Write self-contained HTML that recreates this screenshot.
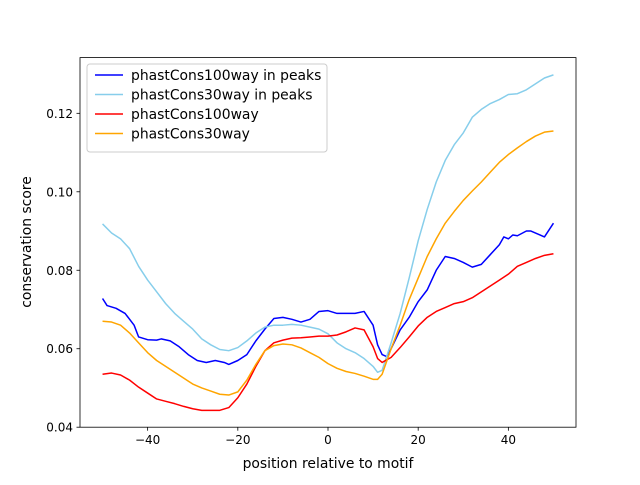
<!DOCTYPE html>
<html><head><meta charset="utf-8"><style>
body{margin:0;background:#fff;}
svg text{font-family:"DejaVu Sans","Liberation Sans",sans-serif;}
</style></head><body>
<svg id="chart" width="640" height="480" viewBox="0 0 640 480" xmlns="http://www.w3.org/2000/svg">
<rect width="640" height="480" fill="#fff"/>
<g id="lines"></g>
<rect x="80" y="57.6" width="496" height="369.6" fill="none" stroke="#000" stroke-width="0.8"/>
<g id="ticks"></g>
<text x="328" y="468" font-size="13.9" text-anchor="middle">position relative to motif</text>
<text transform="translate(31,242) rotate(-90)" font-size="13.9" text-anchor="middle">conservation score</text>
<g>
<rect x="87" y="64" width="240" height="88" rx="3" fill="#fff" fill-opacity="0.8" stroke="#ccc" stroke-width="1"/>
<g id="legend"></g>
</g>
</svg>
<script>
const xTicks=[-40,-20,0,20,40];
const yTicks=[0.04,0.06,0.08,0.10,0.12];
const yTickLabels=["0.04","0.06","0.08","0.10","0.12"];
const seriesNames=["phastCons100way in peaks","phastCons30way in peaks","phastCons100way","phastCons30way"];
const seriesColors=["#0000ff","#87ceeb","#ff0000","#ffa500"];
const blueX=[-50,-49,-47,-45,-43,-42,-40,-38,-37,-35,-33,-31,-29,-27,-25,-23,-22,-20,-18,-16,-14,-12,-10,-8,-6,-4,-2,0,2,4,6,8,10,11,12,13,14,16,18,20,22,24,26,28,30,32,34,36,38,39,40,41,42,44,45,47,48,50];
const blueY=[0.0728,0.071,0.0703,0.069,0.066,0.063,0.0623,0.0622,0.0625,0.062,0.0605,0.0585,0.057,0.0565,0.057,0.0565,0.056,0.057,0.0585,0.062,0.065,0.0677,0.068,0.0675,0.0668,0.0675,0.0695,0.0697,0.069,0.069,0.069,0.0695,0.066,0.061,0.0585,0.058,0.06,0.0648,0.068,0.072,0.075,0.08,0.0835,0.083,0.082,0.0808,0.0815,0.084,0.0865,0.0885,0.088,0.089,0.0888,0.09,0.09,0.089,0.0885,0.092];
const stdX=[-50,-48,-46,-44,-42,-40,-38,-36,-34,-32,-30,-28,-26,-24,-22,-20,-18,-16,-14,-12,-10,-8,-6,-4,-2,0,2,4,6,8,10,11,12,14,16,18,20,22,24,26,28,30,32,34,36,38,40,42,44,46,48,50];
const lightY=[0.0918,0.0895,0.088,0.0855,0.081,0.0775,0.0745,0.0715,0.069,0.067,0.065,0.0625,0.061,0.0598,0.0595,0.0603,0.062,0.064,0.0655,0.066,0.066,0.0662,0.066,0.0655,0.065,0.0638,0.0615,0.06,0.059,0.0575,0.0555,0.054,0.0545,0.0615,0.069,0.078,0.0875,0.0955,0.1025,0.108,0.112,0.115,0.119,0.121,0.1225,0.1235,0.1248,0.125,0.126,0.1275,0.129,0.1298];
const redY=[0.0535,0.0538,0.0533,0.052,0.0502,0.0487,0.0472,0.0466,0.046,0.0453,0.0447,0.0443,0.0443,0.0443,0.045,0.0475,0.051,0.0555,0.0595,0.0615,0.0622,0.0627,0.0628,0.063,0.0632,0.0632,0.0635,0.0643,0.0653,0.0648,0.0605,0.0575,0.0565,0.0578,0.0603,0.063,0.0658,0.068,0.0695,0.0705,0.0715,0.072,0.073,0.0745,0.076,0.0775,0.079,0.081,0.082,0.083,0.0838,0.0842];
const orangeY=[0.067,0.0668,0.066,0.064,0.0615,0.059,0.057,0.0555,0.054,0.0525,0.051,0.05,0.0492,0.0484,0.0482,0.049,0.052,0.056,0.0595,0.0608,0.0612,0.061,0.0602,0.059,0.0578,0.0562,0.055,0.0542,0.0537,0.053,0.0522,0.0522,0.0535,0.06,0.066,0.0725,0.078,0.0835,0.088,0.092,0.095,0.0978,0.1002,0.1025,0.105,0.1075,0.1095,0.1112,0.1128,0.1142,0.1152,0.1155];

const NS="http://www.w3.org/2000/svg";
const L=80,R=576,T=57.6,B=427.2,xmin=-55,xmax=55,ymin=0.04,ymax=0.1342;
const sx=v=>L+(v-xmin)/(xmax-xmin)*(R-L);
const sy=v=>B-(v-ymin)/(ymax-ymin)*(B-T);
function mk(tag,attrs){const e=document.createElementNS(NS,tag);for(const k in attrs)e.setAttribute(k,attrs[k]);return e;}
const lines=document.getElementById('lines');
const allX=[blueX,stdX,stdX,stdX],allY=[blueY,lightY,redY,orangeY];
const lineNames=['line-phastcons100way-peaks','line-phastcons30way-peaks','line-phastcons100way','line-phastcons30way'];
for(let s=0;s<4;s++){
  const d=allX[s].map((x,i)=>(i?'L':'M')+sx(x).toFixed(2)+','+sy(allY[s][i]).toFixed(2)).join(' ');
  const p=mk('path',{d:d,fill:'none',stroke:seriesColors[s],'stroke-width':1.5,'stroke-linejoin':'round'});
  
  
  lines.appendChild(p);
}
const ticks=document.getElementById('ticks');
xTicks.forEach(v=>{
  const x=sx(v);
  const t=mk('line',{x1:x,x2:x,y1:B,y2:B+3.5,stroke:'#000','stroke-width':0.8});
  
  
  ticks.appendChild(t);
  const lb=mk('text',{x:x,y:B+17,'font-size':12,'text-anchor':'middle'});
  lb.textContent=(v<0?'\u2212'+(-v):String(v));
  
  
  ticks.appendChild(lb);
});
yTicks.forEach((v,i)=>{
  const y=sy(v);
  const t=mk('line',{x1:L-3.5,x2:L,y1:y,y2:y,stroke:'#000','stroke-width':0.8});
  
  
  ticks.appendChild(t);
  const lb=mk('text',{x:L-7,y:y+4.5,'font-size':12,'text-anchor':'end'});
  lb.textContent=yTickLabels[i];
  
  
  ticks.appendChild(lb);
});
const lg=document.getElementById('legend');
seriesNames.forEach((n,i)=>{
  const y=75+i*19.5;
  const g=mk('g',{});
  
  
  g.appendChild(mk('line',{x1:95,x2:123,y1:y,y2:y,stroke:seriesColors[i],'stroke-width':1.5}));
  const t=mk('text',{x:131,y:y+5,'font-size':13.9});
  t.textContent=n;
  g.appendChild(t);
  lg.appendChild(g);
});
</script>
</body></html>
